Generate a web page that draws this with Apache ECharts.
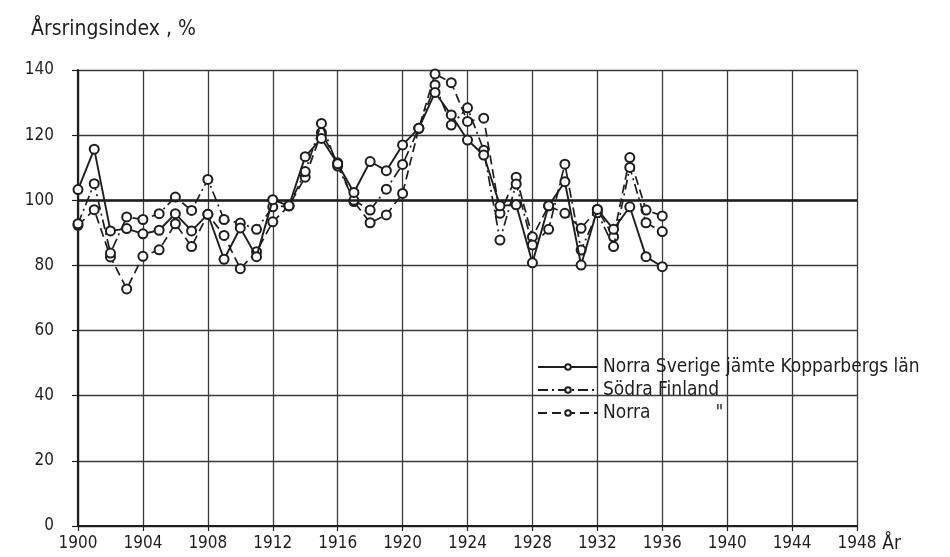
<!DOCTYPE html>
<html>
<head>
<meta charset="utf-8">
<script src="https://cdn.jsdelivr.net/npm/echarts@6/dist/echarts.min.js"></script>
<style>html,body{margin:0;padding:0;background:#fff;}#c{width:950px;height:557px;}</style>
</head>
<body>
<div id="c"></div>
<script>
const years = [1900,1901,1902,1903,1904,1905,1906,1907,1908,1909,1910,1911,1912,1913,1914,1915,1916,1917,1918,1919,1920,1921,1922,1923,1924,1925,1926,1927,1928,1929,1930,1931,1932,1933,1934,1935,1936];
const norraSverige = [103.3,115.7,90.6,91.3,89.7,90.8,95.9,90.6,95.7,81.9,91.5,82.7,100.2,98.3,113.4,119.0,111.2,102.4,111.9,109.1,117.0,122.1,133.1,126.2,118.5,113.9,98.3,98.6,80.8,98.3,105.7,80.1,97.2,91.1,98.0,82.7,79.6];
const sodraFinland = [92.8,105.1,83.8,94.9,94.1,95.9,101.0,96.9,106.4,94.1,93.0,91.1,98.0,98.3,108.8,123.6,110.5,100.0,97.0,103.4,111.0,122.1,135.4,123.1,128.4,115.4,87.8,105.0,86.3,91.1,111.1,84.7,96.2,85.8,110.1,93.1,90.4];
const norraFinland = [92.3,97.1,82.6,72.8,82.8,84.8,92.8,85.8,95.7,89.2,79.0,84.2,93.4,98.3,107.1,120.8,111.5,99.6,93.1,95.5,102.1,122.1,138.8,136.1,124.2,125.2,96.0,107.1,88.8,98.3,96.0,91.4,97.2,88.8,113.1,97.0,95.2];
const xTicks = {min: 1900, max: 1948, step: 4};
const yTicks = {min: 0, max: 140, step: 20};
const seriesNames = ['Norra Sverige jämte Kopparbergs län', 'Södra Finland', 'Norra Finland'];

const FONT = "'DejaVu Sans Condensed', 'Liberation Sans Narrow', 'DejaVu Sans', sans-serif";
const INK = '#1e1e1e';
const chart = echarts.init(document.getElementById('c'), null, {renderer: 'canvas'});
const pair = arr => years.map((y, i) => [y, arr[i]]);
const common = {
  type: 'line',
  symbol: 'emptyCircle',
  symbolSize: 9,
  itemStyle: {color: INK, borderColor: INK, borderWidth: 1.8},
  animation: false
};
chart.setOption({
  backgroundColor: '#ffffff',
  title: {
    text: 'Årsringsindex , %',
    left: 26, top: 14,
    textStyle: {fontFamily: FONT, fontSize: 21, fontWeight: 'normal', color: INK}
  },
  grid: {left: 78, right: 93, top: 70, bottom: 31},
  legend: {
    orient: 'vertical',
    left: 532, top: 352,
    itemWidth: 60, itemHeight: 7, itemGap: 3,
    data: seriesNames,
    formatter: function (n) { return n === 'Norra Finland' ? 'Norra            "' : n; },
    textStyle: {fontFamily: FONT, fontSize: 19, color: INK, lineHeight: 20}
  },
  xAxis: {
    type: 'value',
    min: xTicks.min, max: xTicks.max, interval: xTicks.step,
    name: 'År', nameLocation: 'end', nameGap: 18,
    nameTextStyle: {fontFamily: FONT, fontSize: 19, color: INK, verticalAlign: 'top', padding: [9, 0, 0, 0]},
    axisLine: {lineStyle: {color: INK, width: 2.2}},
    axisTick: {show: true, length: 5, lineStyle: {color: INK, width: 1.2}},
    axisLabel: {fontFamily: FONT, fontSize: 17, color: INK, margin: 9, formatter: v => String(v)},
    splitLine: {show: true, lineStyle: {color: '#3a3a3a', width: 1.3}}
  },
  yAxis: {
    type: 'value',
    min: yTicks.min, max: yTicks.max, interval: yTicks.step,
    axisLine: {show: true, lineStyle: {color: INK, width: 2.2}},
    axisTick: {show: true, length: 6, lineStyle: {color: INK, width: 1.2}},
    axisLabel: {fontFamily: FONT, fontSize: 17, color: INK, margin: 24},
    splitLine: {show: true, lineStyle: {color: '#3a3a3a', width: 1.3}}
  },
  series: [
    Object.assign({}, common, {
      name: seriesNames[0], data: pair(norraSverige), z: 5,
      lineStyle: {color: INK, width: 1.9, type: 'solid'},
      markLine: {
        silent: true, symbol: 'none', label: {show: false},
        lineStyle: {color: INK, width: 2.6, type: 'solid'},
        data: [{yAxis: 100}]
      }
    }),
    Object.assign({}, common, {
      name: seriesNames[1], data: pair(sodraFinland), z: 4,
      lineStyle: {color: INK, width: 1.7, type: [10, 4, 2, 4]}
    }),
    Object.assign({}, common, {
      name: seriesNames[2], data: pair(norraFinland), z: 3,
      lineStyle: {color: INK, width: 1.7, type: [9, 5]}
    })
  ]
});
</script>
</body>
</html>
